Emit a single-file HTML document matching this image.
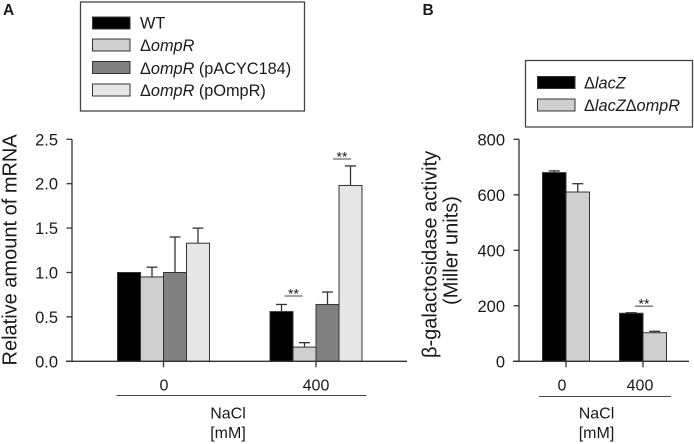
<!DOCTYPE html>
<html>
<head>
<meta charset="utf-8">
<title>OmpR charts</title>
<style>
html,body{margin:0;padding:0;background:#fff;}
svg{display:block;}
text{font-family:"Liberation Sans",sans-serif;fill:#1a1a1a;}
</style>
</head>
<body>
<svg id="fig" width="694" height="444" viewBox="0 0 694 444" xmlns="http://www.w3.org/2000/svg">
  <text x="3" y="15" font-size="15.5" font-weight="bold">A</text>
  <text x="422.5" y="15" font-size="15.5" font-weight="bold">B</text>

  <g>
    <rect x="80.5" y="2" width="224" height="109" fill="#fff" stroke="#444" stroke-width="1.3"/>
    <g>
      <rect x="92.5" y="17" width="37.5" height="12" fill="#000" stroke="#333"/>
      <text x="140" y="28.5" font-size="16.3">WT</text>
    </g>
    <g>
      <rect x="92.5" y="39" width="37.5" height="12" fill="#cfcfcf" stroke="#333"/>
      <text x="140" y="51" font-size="16.3">Δ<tspan font-style="italic">ompR</tspan></text>
    </g>
    <g>
      <rect x="92.5" y="61.5" width="37.5" height="12" fill="#808080" stroke="#333"/>
      <text x="140" y="74" font-size="16.3">Δ<tspan font-style="italic">ompR</tspan> (pACYC184)</text>
    </g>
    <g>
      <rect x="92.5" y="84" width="37.5" height="12" fill="#e6e6e6" stroke="#333"/>
      <text x="140" y="96" font-size="16.3">Δ<tspan font-style="italic">ompR</tspan> (pOmpR)</text>
    </g>
  </g>

  <g>
    <rect x="525.5" y="60.5" width="167" height="66.5" fill="#fff" stroke="#444" stroke-width="1.3"/>
    <g>
      <rect x="537.5" y="76.5" width="37.5" height="12" fill="#000" stroke="#333"/>
      <text x="584" y="88.5" font-size="16.3">Δ<tspan font-style="italic">lacZ</tspan></text>
    </g>
    <g>
      <rect x="537.5" y="99" width="37.5" height="12" fill="#cfcfcf" stroke="#333"/>
      <text x="584" y="111" font-size="16.3">Δ<tspan font-style="italic">lacZ</tspan>Δ<tspan font-style="italic">ompR</tspan></text>
    </g>
  </g>

  <g id="chartA"></g>
  <g id="chartB"></g>

  <text transform="translate(16.5,365.5) rotate(-90)" font-size="20">Relative amount of mRNA</text>
  <text transform="translate(436.5,358) rotate(-90)" font-size="20">β-galactosidase activity</text>
  <text transform="translate(457.5,250.5) rotate(-90)" font-size="20" text-anchor="middle">(Miller units)</text>
</svg>
<script>
var NS = 'http://www.w3.org/2000/svg';

var aCategories = ['0', '400'];
var aTicks = ['0.0', '0.5', '1.0', '1.5', '2.0', '2.5'];
var aTickValues = [0, 0.5, 1, 1.5, 2, 2.5];
var aSeriesNames = ['wt', 'ompr', 'ompr-pacyc184', 'ompr-pompr'];
var aValues = [[1.0, 0.56], [0.95, 0.16], [1.0, 0.64], [1.33, 1.98]];
var aErrors = [[0, 0.64], [1.06, 0.21], [1.40, 0.78], [1.50, 2.20]];
var aSignificance = [[0, 0.735], [1, 2.278]];

var bCategories = ['0', '400'];
var bTicks = ['0', '200', '400', '600', '800'];
var bTickValues = [0, 200, 400, 600, 800];
var bSeriesNames = ['lacz', 'lacz-ompr'];
var bValues = [[680, 173], [610, 103]];
var bErrors = [[686, 175], [640, 108]];
var bSignificance = [[0, 199]];

var INK = '#333';

function mk(parent, tag, attrs, text) {
  var el = document.createElementNS(NS, tag);
  for (var k in attrs) el.setAttribute(k, attrs[k]);
  if (text !== undefined) el.textContent = text;
  parent.appendChild(el);
  return el;
}

function line(parent, x1, y1, x2, y2, w, col) {
  return mk(parent, 'line', {x1: x1, y1: y1, x2: x2, y2: y2, stroke: col || INK, 'stroke-width': w || 1.3});
}

function drawChart(o) {
  var g = document.getElementById(o.id);
  var y0 = 361.3, yTop = 139.3;
  function yScale(v) { return y0 - (v / o.maxV) * (y0 - yTop); }
  function groupX(c) { return o.groupCenter[c]; }
  function barX(c, s) { return groupX(c) + (s - o.values.length / 2) * o.barW; }

  // bars and error bars
  o.values.forEach(function (series, s) {
    series.forEach(function (v, c) {
      var x = barX(c, s), y = yScale(v);
      var err = o.errors[s][c];
      if (err > v) {
        var cx = x + o.barW / 2;
        var eb = line(g, cx, y, cx, yScale(err), 1.3);
        
        
        var cap = line(g, cx - 5.5, yScale(err), cx + 5.5, yScale(err), 1.3);
        
        
      }
      var r = mk(g, 'rect', {x: x, y: y, width: o.barW, height: y0 - y, fill: o.fills[s], stroke: '#333', 'stroke-width': 1});
      
      
    });
  });

  // axes
  var ya = line(g, o.axisX, yTop, o.axisX, y0, 1.3);
  
  
  var xa = line(g, o.baseL, y0, o.baseR, y0, 1.3);
  
  

  o.tickValues.forEach(function (v, i) {
    var t = line(g, o.axisX - 5.5, yScale(v), o.axisX, yScale(v), 1.3);
    
    
    var l = mk(g, 'text', {x: o.axisX - 14, y: yScale(v) + 6, 'font-size': 16.5, 'text-anchor': 'end'}, o.ticks[i]);
    
    
  });

  o.categories.forEach(function (cat, c) {
    var t = line(g, groupX(c), y0, groupX(c), y0 + 6, 1.3);
    
    
    var l = mk(g, 'text', {x: o.labelX[c], y: 390.5, 'font-size': 16, 'text-anchor': 'middle'}, cat);
    
    
  });

  // significance markers
  o.sig.forEach(function (p) {
    var c = p[0];
    var cx = o.sigCenter(c);
    var y = yScale(p[1]);
    var b = line(g, cx - 9, y, cx + 9, y, 1, '#444');
    
    
    var s = mk(g, 'text', {x: cx, y: y + 2.5, 'font-size': 14, 'text-anchor': 'middle'}, '**');
    
    
  });

  // group bracket and axis category title
  var gl = line(g, o.groupL, o.groupY, o.groupR, o.groupY, 1, '#444');
  
  
  var n = mk(g, 'text', {x: o.titleX, y: 418.5, 'font-size': 16, 'text-anchor': 'middle'}, 'NaCl');
  
  
  var m = mk(g, 'text', {x: o.titleX, y: 438, 'font-size': 16, 'text-anchor': 'middle'}, '[mM]');
  
  
}

drawChart({
  id: 'chartA', maxV: 2.5, axisX: 72, baseL: 66, baseR: 407,
  groupCenter: [163.5, 316], barW: 23,
  categories: aCategories, ticks: aTicks, tickValues: aTickValues,
  names: aSeriesNames, values: aValues, errors: aErrors,
  fills: ['#000', '#cfcfcf', '#808080', '#e6e6e6'],
  labelX: [164, 316], sig: aSignificance,
  sigCenter: function (c) { return c === 0 ? 293.5 : 342; },
  groupL: 116.5, groupR: 366.5, groupY: 395.5, titleX: 228
});

drawChart({
  id: 'chartB', maxV: 800, axisX: 519, baseL: 513, baseR: 689,
  groupCenter: [566, 643], barW: 23.5,
  categories: bCategories, ticks: bTicks, tickValues: bTickValues,
  names: bSeriesNames, values: bValues, errors: bErrors,
  fills: ['#000', '#cfcfcf'],
  labelX: [562, 640], sig: bSignificance,
  sigCenter: function () { return 644; },
  groupL: 539, groupR: 671, groupY: 396.5, titleX: 596.5
});
</script>
</body>
</html>
